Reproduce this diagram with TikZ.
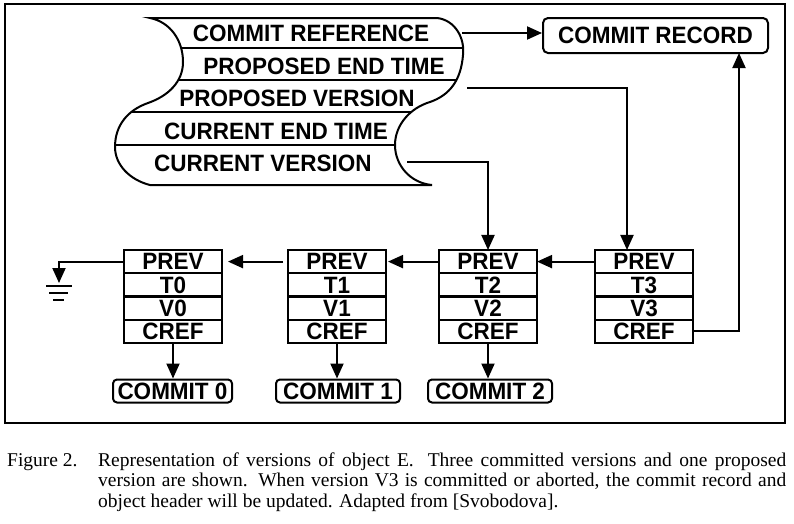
\documentclass[tikz,border=0pt]{standalone}
\usepackage{fontspec}
\usepackage{graphicx}
\setmainfont{Liberation Serif}
\newfontfamily\hv{Liberation Sans Bold}
\newfontfamily\capfont{Liberation Serif}
\newcommand{\stx}[1]{\scalebox{1}[1.05]{#1}}
\usetikzlibrary{arrows.meta}
\begin{document}
\begin{tikzpicture}[x=1pt,y=-1pt,
  lw/.style={line width=2pt},
  arr/.style={lw,-{Triangle[length=15pt,width=13pt]}},
  lbl/.style={font=\hv\fontsize{22.5}{23}\selectfont, inner sep=0pt},
  cell/.style={draw,lw,minimum width=98pt,minimum height=23.25pt,inner sep=0pt,outer sep=0pt,font=\hv\fontsize{22.5}{23}\selectfont},
  cbox/.style={draw,lw,rounded corners=4pt,minimum width=121pt,minimum height=23pt,inner sep=0pt,font=\hv\fontsize{22.5}{23}\selectfont},
  captxt/.style={font=\capfont\fontsize{19.5}{20}\selectfont, inner sep=0pt, anchor=base west}]
\useasboundingbox (0,0) rectangle (794,523);
% frame
\draw[lw] (5,4) rectangle (785,423);

% object header shape
\begin{scope}
\clip (150,18) -- (437,18) .. controls (455,20) and (465,38) .. (463,55)
  .. controls (461,80) and (450,95) .. (430,102)
  .. controls (410,108) and (395,125) .. (395,145)
  .. controls (395,165) and (410,183) .. (432,185) -- (150,185)
  .. controls (130,180) and (115,165) .. (115,147)
  .. controls (115,125) and (128,110) .. (148,103)
  .. controls (168,96) and (183,82) .. (183,62)
  .. controls (183,40) and (170,22) .. (150,18) -- cycle;
\draw[lw] (100,48) -- (480,48);
\draw[lw] (100,80) -- (480,80);
\draw[lw] (100,112) -- (480,112);
\draw[lw] (100,145) -- (480,145);
\end{scope}
\draw[lw] (150,18) -- (437,18) .. controls (455,20) and (465,38) .. (463,55)
  .. controls (461,80) and (450,95) .. (430,102)
  .. controls (410,108) and (395,125) .. (395,145)
  .. controls (395,165) and (410,183) .. (432,185) -- (150,185)
  .. controls (130,180) and (115,165) .. (115,147)
  .. controls (115,125) and (128,110) .. (148,103)
  .. controls (168,96) and (183,82) .. (183,62)
  .. controls (183,40) and (170,22) .. (150,18) -- cycle;

\node[lbl] (hcr)  at (311,33)  {\stx{COMMIT REFERENCE}};
\node[lbl] (hpet) at (324,66)  {\stx{PROPOSED END TIME}};
\node[lbl] (hpv)  at (297,98)  {\stx{PROPOSED VERSION}};
\node[lbl] (hcet) at (276,131) {\stx{CURRENT END TIME}};
\node[lbl] (hcv)  at (263,163) {\stx{CURRENT VERSION}};

\coordinate (s1) at (462,33);
\coordinate (s2) at (467,88);
\coordinate (s3) at (407,162);

% commit record
\node[draw,lw,rounded corners=5pt,minimum width=225pt,minimum height=35pt,inner sep=0pt,font=\hv\fontsize{22.5}{23}\selectfont] (crec) at (655.5,35.5) {\stx{COMMIT RECORD}};

% version cells
\foreach \n/\cx in {0/173,1/337,2/488,3/644}{
  \node[cell] (v\n p) at (\cx,261.6) {\stx{PREV}};
  \node[cell] (v\n t) at (\cx,284.9) {\stx{T\n}};
  \node[cell] (v\n v) at (\cx,308.1) {\stx{V\n}};
  \node[cell] (v\n c) at (\cx,331.4) {\stx{CREF}};
}

% commit boxes
\node[cbox,minimum width=119pt] (c0) at (172.5,391) {\stx{COMMIT 0}};
\node[cbox,minimum width=124pt] (c1) at (338,391) {\stx{COMMIT 1}};
\node[cbox,minimum width=124pt] (c2) at (490,391) {\stx{COMMIT 2}};

% connectors
\draw[arr] (s1) -- (s1 -| crec.west);
\draw[arr] (s2) -| ([xshift=-17pt]v3p.north);
\draw[arr] (s3) -| (v2p.north);
\coordinate (up) at (739,53);
\draw[arr] (v3c.east) -| (up);

\draw[arr] (v3p.west) -- (v2p.east);
\draw[arr,shorten >=2pt] (v2p.west) -- (v1p.east);
\draw[arr,shorten >=6pt,shorten <=5pt] (v1p.west) -- (v0p.east);

\draw[arr] (v0c.south) -- (v0c.south |- c0.north);
\draw[arr] (v1c.south) -- (v1c.south |- c1.north);
\draw[arr] (v2c.south) -- (v2c.south |- c2.north);

% ground
\coordinate (gnd) at (59,283);
\draw[arr] (v0p.west) -| (gnd);
\draw[lw] (46,285.5) -- (72,285.5);
\draw[lw] (49,292.5) -- (68,292.5);
\draw[lw] (53,299.5) -- (64,299.5);

% caption
\node[captxt] (fig) at (7,466) {Figure 2.};
\node[captxt] (cap1) at (98,466) {\makebox[688pt][s]{Representation of versions of object E\@. Three committed versions and one proposed}};
\node[captxt] (cap2) at (98,486.5) {\makebox[688pt][s]{version are shown. When version V3 is committed or aborted, the commit record and}};
\node[captxt] (cap3) at (98,507) {object header will be updated. Adapted from [Svobodova].};
\end{tikzpicture}
\end{document}
